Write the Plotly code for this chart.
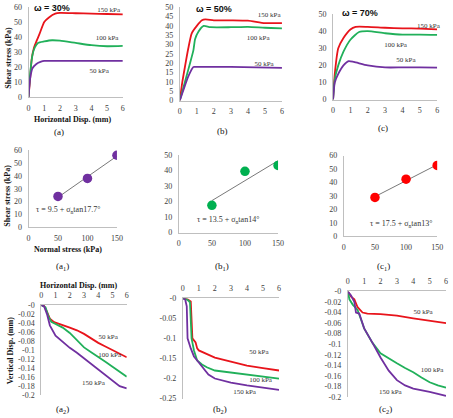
import plotly.graph_objects as go
import numpy as np

W, H = 453, 418

# ---------------- Row 1: shear stress vs horizontal displacement ----------------
a_x150 = [0, 0.1, 0.2, 0.35, 0.5, 0.7, 1.0, 1.3, 1.7, 2.0, 3, 4, 5, 6]
a_y150 = [0, 12, 25, 33, 37, 42, 50, 53, 55.5, 56, 55.8, 55.5, 55.3, 55]
a_x100 = [0, 0.1, 0.25, 0.4, 0.6, 1.0, 1.5, 2.0, 3, 4, 5, 6]
a_y100 = [0, 15, 28, 33, 36, 37, 37.8, 37.5, 36, 34.5, 33.8, 34]
a_x50 = [0, 0.1, 0.25, 0.5, 0.8, 1, 2, 4, 6]
a_y50 = [0, 12, 19, 22, 23.5, 24, 24, 24, 24]

b_x150 = [0, 0.15, 0.3, 0.5, 0.7, 1.0, 1.3, 1.5, 2, 3, 4, 5, 6]
b_y150 = [0, 10, 18, 28, 36, 40, 43, 43.5, 43, 43, 42.8, 41.5, 41.5]
b_x100 = [0, 0.3, 0.6, 0.8, 0.9, 1.1, 1.4, 1.8, 3, 4, 5, 6]
b_y100 = [0, 10, 20, 27, 33, 37, 40, 39.3, 39.3, 39.5, 39, 38.7]
b_x50 = [0, 0.3, 0.5, 0.8, 1, 3, 6]
b_y50 = [0, 8, 13, 18, 18, 18, 17.5]

c_x150 = [0, 0.1, 0.3, 0.6, 1.0, 1.3, 2, 3, 4, 5, 6]
c_y150 = [0, 15, 30, 36, 41, 42.5, 42.5, 42, 41.7, 41.5, 41]
c_x100 = [0, 0.1, 0.3, 0.6, 1.0, 1.5, 2, 3, 4, 5, 6]
c_y100 = [0, 12, 20, 28, 35, 39.5, 40, 38.8, 38, 38, 37.8]
c_x50 = [0, 0.1, 0.3, 0.6, 0.9, 1.2, 2, 3, 4, 5, 6]
c_y50 = [0, 10, 15, 20, 22.5, 22, 20, 18.8, 18.8, 18.8, 18.7]

# ---------------- Row 2: failure envelopes ----------------
normal_stress = [50, 100, 150]
a1_tau = [24, 38, 56]
b1_tau = [17.6, 39.5, 43.3]
c1_tau = [28.9, 42.5, 52.7]

# ---------------- Row 3: vertical vs horizontal displacement ----------------
a2_x50 = [0, 0.2, 0.4, 0.6, 0.9, 1.5, 2, 2.5, 3, 3.5, 4, 4.5, 5, 5.5, 6]
a2_y50 = [0, -0.002, -0.015, -0.03, -0.038, -0.044, -0.05, -0.056, -0.064, -0.074, -0.084, -0.092, -0.1, -0.107, -0.116]
a2_x100 = [0, 0.3, 0.5, 0.7, 1, 1.5, 2, 2.5, 3, 3.5, 4, 4.5, 5, 5.5, 6]
a2_y100 = [0, -0.005, -0.025, -0.037, -0.042, -0.05, -0.062, -0.078, -0.094, -0.105, -0.115, -0.126, -0.137, -0.148, -0.159]
a2_x150 = [0, 0.2, 0.4, 0.6, 1, 1.5, 2, 2.5, 3, 3.5, 4, 4.5, 5, 5.5, 6]
a2_y150 = [0, -0.003, -0.02, -0.045, -0.068, -0.082, -0.095, -0.106, -0.118, -0.13, -0.143, -0.156, -0.168, -0.18, -0.185]

b2_x50 = [0, 0.3, 0.5, 0.55, 0.6, 0.8, 0.9, 1, 1.5, 2, 3, 4, 5, 6]
b2_y50 = [0, -0.003, -0.008, -0.05, -0.1, -0.11, -0.125, -0.13, -0.14, -0.148, -0.158, -0.168, -0.174, -0.18]
b2_x100 = [0, 0.3, 0.45, 0.5, 0.55, 0.7, 0.9, 1.2, 1.5, 2, 3, 4, 5, 6]
b2_y100 = [0, -0.004, -0.01, -0.05, -0.1, -0.13, -0.155, -0.165, -0.172, -0.18, -0.185, -0.19, -0.195, -0.2]
b2_x150 = [0, 0.15, 0.25, 0.3, 0.5, 0.7, 1, 1.3, 1.6, 2, 2.5, 3, 4, 5, 6]
b2_y150 = [0, -0.003, -0.02, -0.1, -0.125, -0.145, -0.16, -0.175, -0.19, -0.2, -0.205, -0.21, -0.217, -0.222, -0.228]

c2_x50 = [0, 0.2, 0.4, 0.6, 0.9, 1.2, 2, 3, 4, 5, 6]
c2_y50 = [0, -0.01, -0.015, -0.03, -0.04, -0.042, -0.043, -0.046, -0.051, -0.056, -0.06]
c2_x100 = [0, 0.1, 0.3, 0.6, 1, 1.5, 2, 2.5, 3, 3.5, 4, 4.5, 5, 5.5, 6]
c2_y100 = [0, -0.015, -0.025, -0.035, -0.07, -0.097, -0.117, -0.127, -0.136, -0.145, -0.153, -0.163, -0.172, -0.178, -0.182]
c2_x150 = [0, 0.2, 0.4, 0.5, 0.7, 1, 1.5, 2, 2.5, 3, 3.5, 4, 5, 6]
c2_y150 = [0, -0.008, -0.02, -0.04, -0.042, -0.07, -0.097, -0.125, -0.15, -0.168, -0.178, -0.184, -0.19, -0.198]

# series label texts and their positions (data coordinates)
labels_text = ["150 kPa", "100 kPa", "50 kPa"]
lab_a = ([5.1, 5.0, 4.5], [58, 39, 17])
lab_b = ([5.25, 4.6, 4.95], [45.6, 33.4, 19.4])
lab_c = ([5.5, 3.6, 4.2], [43.1, 31.7, 23])
lab_a2 = ([3.66, 4.8, 4.7], [-0.173, -0.112, -0.072])
lab_b2 = ([3.85, 4.85, 4.75], [-0.235, -0.205, -0.135])
lab_c2 = ([2.6, 5.15, 4.6], [-0.19, -0.149, -0.0395])

RED, GREEN, PURPLE = "#E8141B", "#21B05A", "#7030A0"
MRED, MGREEN, MPURPLE = "#FF0000", "#00B050", "#7030A0"
SERIF = "Liberation Serif"
AXC = "#BFBFBF"
TXT = "#404040"

def X(p):
    return p / W

def Y(p):
    return 1 - p / H

fig = go.Figure()

# panel definitions: id, x px domain, y px domain, xrange, yrange, xdtick, ydtick, xside
panels = [
    ("", (27, 123), (3, 95), [0, 6], [0, 60], 1, 10, "bottom"),
    ("2", (181, 285), (3.3, 98.7), [0, 6], [0, 50], 1, 5, "bottom"),
    ("3", (337, 443), (10.3, 97.7), [0, 6], [0, 50], 1, 10, "bottom"),
    ("4", (27, 117), (149.3, 228.3), [0, 150], [0, 60], 50, 10, "bottom"),
    ("5", (180, 281), (154.3, 233.7), [0, 150], [0, 50], 50, 10, "bottom"),
    ("6", (348, 443), (155, 237.3), [0, 150], [0, 60], 50, 10, "bottom"),
    ("7", (40, 127), (307.7, 399.7), [0, 6], [-0.2, 0], 1, 0.02, "top"),
    ("8", (184, 282), (300.7, 403.3), [0, 6], [-0.25, 0], 1, 0.05, "top"),
    ("9", (352, 452), (293.7, 401.7), [0, 6], [-0.2, 0], 1, 0.02, "top"),
]

layout_axes = {}
for pid, xd, yd, xr, yr, xdt, ydt, side in panels:
    yv = np.round(np.arange(yr[0], yr[1] + ydt / 2, ydt), 4)
    ytext = [f"{v:g}" for v in yv]
    layout_axes["xaxis" + pid] = dict(
        domain=[X(xd[0]), X(xd[1])], range=xr, anchor="y" + pid, side=side,
        showline=True, linecolor=AXC, linewidth=1, showgrid=False, zeroline=False,
        ticks="outside", ticklen=3, tickcolor="rgba(0,0,0,0)", dtick=xdt, tick0=0,
        tickfont=dict(family=SERIF, size=8, color=TXT), fixedrange=True)
    layout_axes["yaxis" + pid] = dict(
        domain=[Y(yd[1]), Y(yd[0])], range=yr, anchor="x" + pid,
        showline=True, linecolor=AXC, linewidth=1, showgrid=False, zeroline=False,
        ticks="outside", ticklen=4, tickcolor="rgba(0,0,0,0)",
        tickvals=list(yv), ticktext=ytext,
        tickfont=dict(family=SERIF, size=8, color=TXT), fixedrange=True)

def line(x, y, color, pid, shape="spline"):
    fig.add_trace(go.Scatter(x=x, y=y, mode="lines", xaxis="x" + pid, yaxis="y" + pid,
                             line=dict(color=color, width=1.8, shape=shape, smoothing=0.6),
                             showlegend=False, hoverinfo="skip"))

def series_labels(pos, pid):
    fig.add_trace(go.Scatter(x=pos[0], y=pos[1], text=labels_text, mode="text",
                             textposition="middle center", xaxis="x" + pid, yaxis="y" + pid,
                             textfont=dict(family=SERIF, size=7, color="#333333"),
                             cliponaxis=False, showlegend=False, hoverinfo="skip"))

# Row 1
line(a_x150, a_y150, RED, ""); line(a_x100, a_y100, GREEN, ""); line(a_x50, a_y50, PURPLE, "")
line(b_x150, b_y150, RED, "2"); line(b_x100, b_y100, GREEN, "2"); line(b_x50, b_y50, PURPLE, "2")
line(c_x150, c_y150, RED, "3"); line(c_x100, c_y100, GREEN, "3"); line(c_x50, c_y50, PURPLE, "3")

# Row 2
for pid, tau, mc in [("4", a1_tau, MPURPLE), ("5", b1_tau, MGREEN), ("6", c1_tau, MRED)]:
    k, b = np.polyfit(normal_stress, tau, 1)
    xs = [normal_stress[0], normal_stress[-1]]
    fig.add_trace(go.Scatter(x=xs, y=[k * v + b for v in xs], mode="lines",
                             xaxis="x" + pid, yaxis="y" + pid,
                             line=dict(color="#555555", width=0.8), showlegend=False, hoverinfo="skip"))
    fig.add_trace(go.Scatter(x=normal_stress, y=tau, mode="markers", xaxis="x" + pid, yaxis="y" + pid,
                             marker=dict(color=mc, size=9.5), showlegend=False, hoverinfo="skip"))

# Row 3
line(a2_x50, a2_y50, RED, "7", "linear"); line(a2_x100, a2_y100, GREEN, "7", "linear"); line(a2_x150, a2_y150, PURPLE, "7", "linear")
line(b2_x50, b2_y50, RED, "8", "linear"); line(b2_x100, b2_y100, GREEN, "8", "linear"); line(b2_x150, b2_y150, PURPLE, "8", "linear")
line(c2_x50, c2_y50, RED, "9", "linear"); line(c2_x100, c2_y100, GREEN, "9", "linear"); line(c2_x150, c2_y150, PURPLE, "9", "linear")

for pos, pid in [(lab_a, ""), (lab_b, "2"), (lab_c, "3"), (lab_a2, "7"), (lab_b2, "8"), (lab_c2, "9")]:
    series_labels(pos, pid)

ann = []

def dlabel(text, x, y, pid, size=8):
    ann.append(dict(text=text, x=x, y=y, xref="x" + pid, yref="y" + pid, showarrow=False,
                    xanchor="center", yanchor="middle",
                    font=dict(family=SERIF, size=size, color="#333333")))

dlabel("τ = 9.5 + σ<sub>n</sub>tan17.7°", 67, 13.2, "4")
dlabel("τ = 13.5 + σ<sub>n</sub>tan14°", 75, 8, "5")
dlabel("τ = 17.5 + σ<sub>n</sub>tan13°", 92, 9, "6")

def pann(text, xp, yp, size=9, bold=False, angle=0, family=SERIF):
    t = f"<b>{text}</b>" if bold else text
    ann.append(dict(text=t, x=X(xp), y=Y(yp), xref="paper", yref="paper", showarrow=False,
                    xanchor="center", yanchor="middle",
                    textangle=angle, font=dict(family=family, size=size, color="#111111")))

# panel titles (moisture content)
pann("ω = 30%", 51, 4, 9, True, 0, "Liberation Sans")
pann("ω = 50%", 216, 5, 9, True, 0, "Liberation Sans")
pann("ω = 70%", 364, 9, 9, True, 0, "Liberation Sans")

# axis titles
pann("Shear stress (kPa)", 7, 55, 8, True, -90)
pann("Horizontal Disp. (mm)", 72, 118, 8, True)
pann("Shear stress (kPa)", 6, 196, 8, True, -90)
pann("Normal stress (kPa)", 67, 251, 8, True)
pann("Horizontal Disp. (mm)", 78, 288, 8, True)
pann("Vertical Disp. (mm)", 9, 354, 8, True, -90)

# captions
pann("(a)", 58, 131)
pann("(b)", 224, 130)
pann("(c)", 388, 127)
pann("(a<sub>1</sub>)", 62, 268)
pann("(b<sub>1</sub>)", 224, 268)
pann("(c<sub>1</sub>)", 388, 268)
pann("(a<sub>2</sub>)", 62, 414)
pann("(b<sub>2</sub>)", 222, 414)
pann("(c<sub>2</sub>)", 390, 414)

fig.update_layout(width=W, height=H, margin=dict(l=0, r=0, t=0, b=0),
                  paper_bgcolor="white", plot_bgcolor="white", annotations=ann, **layout_axes)

fig.write_html("out.html", config={"displayModeBar": False})
